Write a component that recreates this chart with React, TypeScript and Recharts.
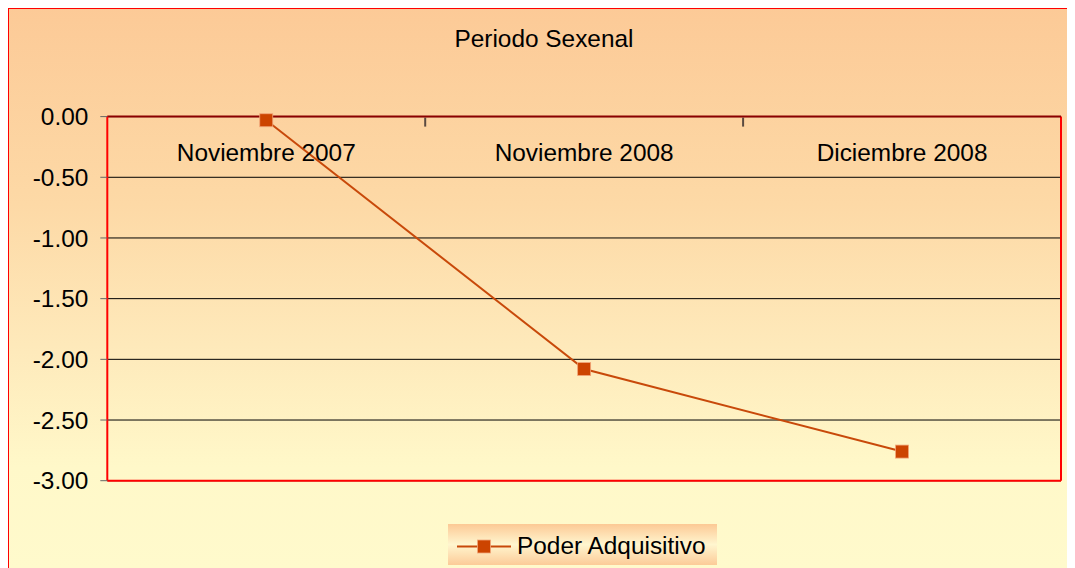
import { LineChart, Line, XAxis, YAxis, CartesianGrid, ReferenceLine } from 'recharts';

// datos del gráfico
const categories = ['Noviembre 2007', 'Noviembre 2008', 'Diciembre 2008'];
const poderAdquisitivo = [-0.03, -2.08, -2.76];
const yTicks = [0, -0.5, -1, -1.5, -2, -2.5, -3];
const boundaryTicks = [1, 2];

const data = categories.map((name, i) => ({ name, pos: i + 0.5, valor: poderAdquisitivo[i] }));

const FONT = '"Liberation Sans", Arial, sans-serif';
const LINE_COLOR = '#C8490A';
const MARK_COLOR = '#CC4400';

// marcador cuadrado como en Excel
const SquareDot = (props: any) => {
  const { cx, cy } = props;
  if (cx == null || cy == null) return null;
  return <rect x={cx - 6.5} y={cy - 6.5} width={13} height={13} fill={MARK_COLOR} stroke="#F2A77A" strokeWidth={0.8} />;
};

export default function App() {
  return (
    <div
      style={{
        position: 'relative',
        width: 1067,
        height: 560,
        overflow: 'hidden',
        fontFamily: FONT,
        background: 'linear-gradient(to bottom, #FCCA97 0%, #FDD9A6 35%, #FEE9BA 60%, #FFF8C9 82%, #FFFACC 100%)',
      }}
    >
      {/* borde exterior: solo arriba e izquierda quedan dentro de la imagen */}
      <div
        style={{
          position: 'absolute',
          left: 0,
          top: 0,
          width: '100%',
          height: '100%',
          borderTop: '1.5px solid #FF0000',
          borderLeft: '1.5px solid #FF0000',
          boxSizing: 'border-box',
          pointerEvents: 'none',
        }}
      />
      <div
        style={{
          position: 'absolute',
          left: 0,
          top: 19,
          width: 1072,
          textAlign: 'center',
          fontSize: 24.4,
          lineHeight: '24.4px',
          color: '#000',
        }}
      >
        Periodo Sexenal
      </div>

      <LineChart width={1067} height={560} data={data} margin={{ top: 108.6, right: 14, left: 0, bottom: 87.3 }}>
        <CartesianGrid vertical={false} stroke="#000" strokeWidth={1} fill="none" />
        {/* marcas entre categorías */}
        <XAxis
          xAxisId="lim"
          type="number"
          dataKey="pos"
          orientation="top"
          mirror
          height={1}
          domain={[0, 3]}
          ticks={boundaryTicks}
          tick={{ fill: 'none', fontSize: 1 }}
          tickFormatter={() => ''}
          axisLine={false}
          tickLine={{ stroke: '#5A4A40', strokeWidth: 2 }}
          tickSize={9}
        />
        <XAxis
          dataKey="name"
          scale="band"
          orientation="top"
          mirror
          height={1}
          interval={0}
          axisLine={{ stroke: '#8B0000', strokeWidth: 2 }}
          tickLine={false}
          tickSize={9}
          tickMargin={18}
          tick={{ fill: '#000', fontSize: 24.4, fontFamily: FONT }}
        />
        <YAxis
          width={99.3}
          domain={[-3, 0]}
          ticks={yTicks}
          interval={0}
          tickFormatter={(v: number) => v.toFixed(2)}
          axisLine={{ stroke: '#FF0000', strokeWidth: 2 }}
          tickLine={{ stroke: '#666' }}
          tickSize={7}
          tickMargin={12}
          tick={{ fill: '#000', fontSize: 24.4, fontFamily: FONT }}
        />
        <ReferenceLine y={-3} stroke="#FF0000" strokeWidth={2} />
        <ReferenceLine xAxisId="lim" x={3} stroke="#FF0000" strokeWidth={2} />
        {/* serie invisible para activar el eje auxiliar */}
        <Line
          xAxisId="lim"
          type="linear"
          dataKey="valor"
          stroke="none"
          dot={false}
          activeDot={false}
          legendType="none"
          isAnimationActive={false}
        />
        <Line
          type="linear"
          dataKey="valor"
          name="Poder Adquisitivo"
          stroke={LINE_COLOR}
          strokeWidth={2}
          dot={<SquareDot />}
          activeDot={false}
          isAnimationActive={false}
        />
      </LineChart>

      {/* leyenda */}
      <div
        style={{
          position: 'absolute',
          left: 440,
          top: 516,
          width: 269,
          height: 41,
          background: 'linear-gradient(to bottom, #FCC995 0%, #FFF6CF 50%, #FCCB98 100%)',
          display: 'flex',
          alignItems: 'center',
        }}
      >
        <svg width={66} height={41} style={{ display: 'block' }}>
          <line x1={9} y1={22.5} x2={63} y2={22.5} stroke={LINE_COLOR} strokeWidth={2} />
          <rect x={29.5} y={16} width={13} height={13} fill={MARK_COLOR} stroke="#F2A77A" strokeWidth={0.8} />
        </svg>
        <span style={{ fontSize: 24.4, color: '#000', marginLeft: 3, marginTop: 2 }}>Poder Adquisitivo</span>
      </div>
    </div>
  );
}
